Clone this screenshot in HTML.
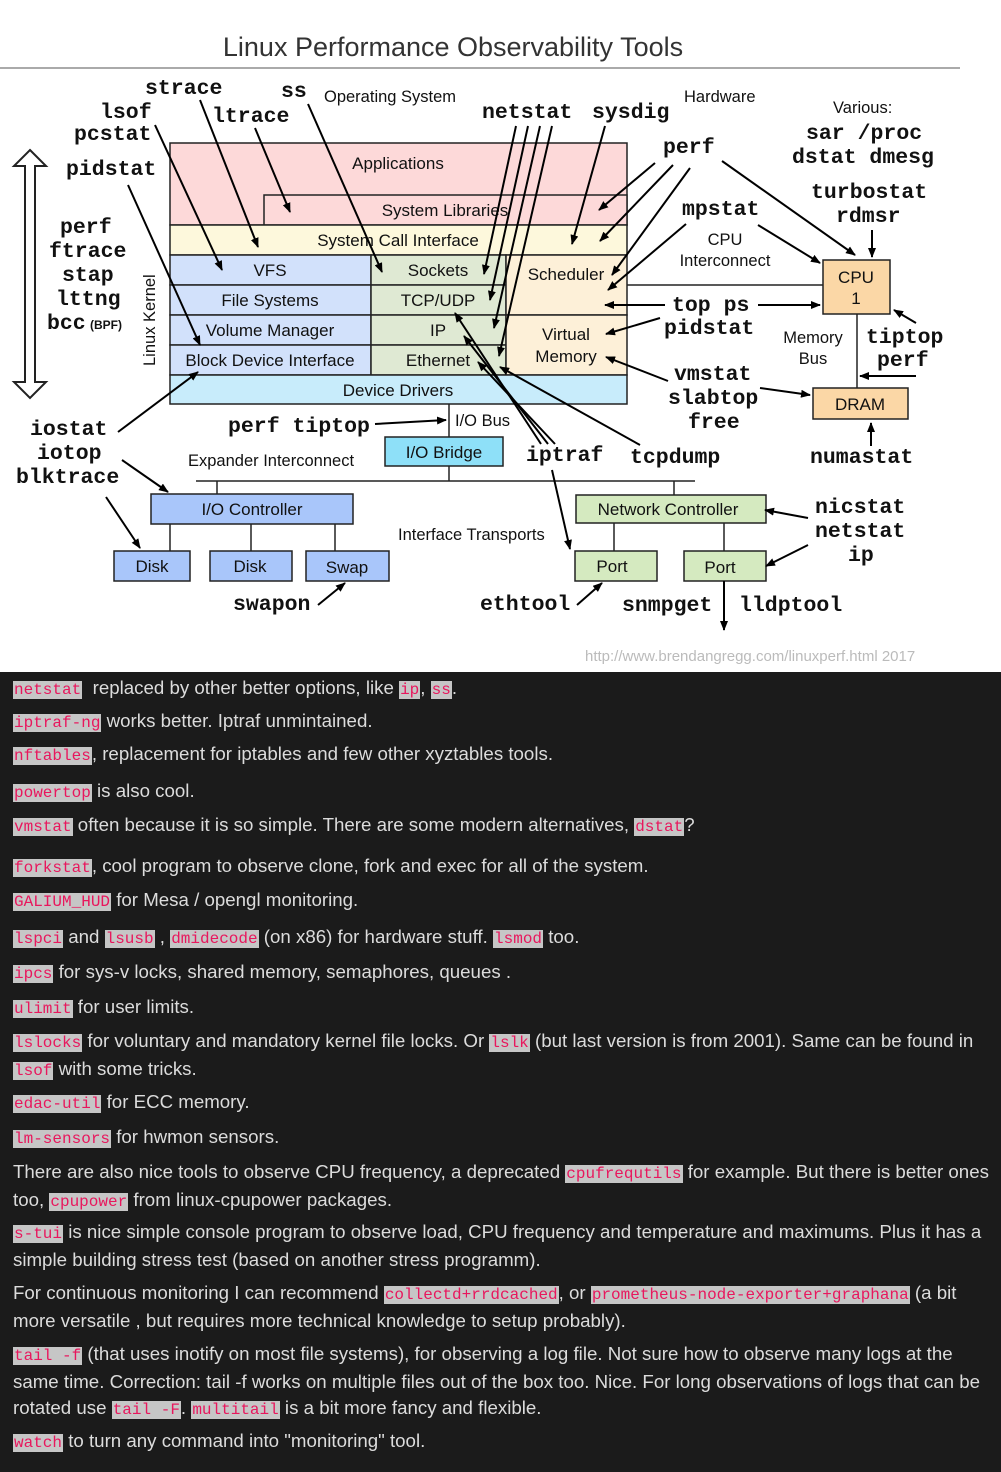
<!DOCTYPE html>
<html><head><meta charset="utf-8"><style>
body{margin:0;width:1001px;height:1472px;overflow:hidden;background:#1b1b1b;font-family:"Liberation Sans",sans-serif}
#top{position:absolute;left:0;top:0;width:1001px;height:672px;background:#fff}
.p{position:absolute;left:13px;color:#dcdcdc;font-size:18.7px;line-height:26px;white-space:nowrap}
code{font-family:"Liberation Mono",monospace;font-size:16px;color:#e8175d;background:#c6c6c6;padding:0 1px}
</style></head><body>
<div id="top">
<svg width="1001" height="672" xmlns="http://www.w3.org/2000/svg" font-family="Liberation Sans, sans-serif">
<defs><marker id="a" markerWidth="10" markerHeight="8" refX="9" refY="4" orient="auto" markerUnits="userSpaceOnUse"><path d="M0,0 L10,4 L0,8 z" fill="#000"/></marker></defs>
<text x="453" y="56" text-anchor="middle" font-size="27" fill="#333" font-weight="300">Linux Performance Observability Tools</text>
<line x1="0" y1="68" x2="960" y2="68" stroke="#555" stroke-width="1"/>
<g stroke="#222" stroke-width="1.5">
<rect x="170" y="143" width="457" height="82" fill="#fdd9d9"/>
<rect x="264" y="195" width="363" height="30" fill="#fdd9d9"/>
<rect x="170" y="225" width="457" height="30" fill="#fdf8dc"/>
<rect x="170" y="255" width="201" height="30" fill="#d2e1fb"/>
<rect x="170" y="285" width="201" height="30" fill="#d2e1fb"/>
<rect x="170" y="315" width="201" height="30" fill="#d2e1fb"/>
<rect x="170" y="345" width="201" height="30" fill="#d2e1fb"/>
<rect x="371" y="255" width="135" height="30" fill="#dfe9d3"/>
<rect x="371" y="285" width="135" height="30" fill="#dfe9d3"/>
<rect x="371" y="315" width="135" height="30" fill="#dfe9d3"/>
<rect x="371" y="345" width="135" height="30" fill="#dfe9d3"/>
<rect x="506" y="255" width="121" height="60" fill="#fdf0d8"/>
<rect x="506" y="315" width="121" height="60" fill="#fdf0d8"/>
<rect x="170" y="375" width="457" height="29" fill="#c8ecfb"/>
<rect x="823" y="260" width="67" height="54" fill="#fbd7a6"/>
<rect x="813" y="388" width="95" height="31" fill="#fbd7a6"/>
<rect x="385" y="437" width="118" height="29" fill="#8ee0f8"/>
<rect x="151" y="494" width="202" height="30" fill="#a9c6fa"/>
<rect x="114" y="551" width="76" height="30" fill="#a9c6fa"/>
<rect x="210" y="551" width="82" height="30" fill="#a9c6fa"/>
<rect x="306" y="551" width="83" height="30" fill="#a9c6fa"/>
<rect x="576" y="495" width="190" height="28" fill="#d5eac0"/>
<rect x="575" y="551" width="82" height="30" fill="#d5eac0"/>
<rect x="684" y="551" width="82" height="30" fill="#d5eac0"/>
<line x1="627" y1="285" x2="823" y2="285"/>
<line x1="857" y1="314" x2="857" y2="388"/>
<line x1="449" y1="404" x2="449" y2="437"/>
<line x1="449" y1="466" x2="449" y2="481"/>
<line x1="196" y1="481" x2="695" y2="481"/>
<line x1="217" y1="481" x2="217" y2="494"/>
<line x1="674" y1="481" x2="674" y2="495"/>
<line x1="170" y1="524" x2="170" y2="551"/><line x1="251" y1="524" x2="251" y2="551"/><line x1="335" y1="524" x2="335" y2="551"/>
<line x1="614" y1="523" x2="614" y2="551"/><line x1="724" y1="523" x2="724" y2="551"/>
</g>
<g font-size="17" text-anchor="middle" fill="#111">
<text x="398" y="169">Applications</text><text x="445" y="216">System Libraries</text>
<text x="398" y="246">System Call Interface</text>
<text x="270" y="276">VFS</text><text x="270" y="306">File Systems</text><text x="270" y="336">Volume Manager</text><text x="270" y="366">Block Device Interface</text>
<text x="438" y="276">Sockets</text><text x="438" y="306">TCP/UDP</text><text x="438" y="336">IP</text><text x="438" y="366">Ethernet</text>
<text x="566" y="280">Scheduler</text><text x="566" y="340">Virtual</text><text x="566" y="362">Memory</text>
<text x="398" y="396">Device Drivers</text>
<text x="856" y="283">CPU</text><text x="856" y="304">1</text><text x="860" y="410">DRAM</text>
<text x="444" y="458">I/O Bridge</text><text x="252" y="515">I/O Controller</text>
<text x="152" y="572">Disk</text><text x="250" y="572">Disk</text><text x="347" y="573">Swap</text>
<text x="668" y="515">Network Controller</text><text x="612" y="572">Port</text><text x="720" y="573">Port</text>
</g>
<g font-size="16.5" fill="#111">
<text x="324" y="102">Operating System</text><text x="684" y="102">Hardware</text><text x="833" y="113">Various:</text>
<text x="725" y="245" text-anchor="middle">CPU</text><text x="725" y="266" text-anchor="middle">Interconnect</text>
<text x="813" y="343" text-anchor="middle">Memory</text><text x="813" y="364" text-anchor="middle">Bus</text>
<text x="455" y="426">I/O Bus</text><text x="188" y="466">Expander Interconnect</text><text x="398" y="540">Interface Transports</text>
<text x="155" y="366" transform="rotate(-90 155 366)">Linux Kernel</text>
</g>
<text x="585" y="661" font-size="15" fill="#bbb">http://www.brendangregg.com/linuxperf.html 2017</text>
<g font-family="Liberation Mono, monospace" font-weight="bold" font-size="21.5" fill="#111">
<text x="145" y="94">strace</text><text x="281" y="97">ss</text>
<text x="100" y="118">lsof</text><text x="212" y="122">ltrace</text><text x="74" y="140">pcstat</text>
<text x="66" y="175">pidstat</text>
<text x="60" y="233">perf</text><text x="49" y="257">ftrace</text><text x="62" y="281">stap</text><text x="56" y="305">lttng</text><text x="47" y="329">bcc</text>
<text x="482" y="118">netstat</text><text x="592" y="118">sysdig</text><text x="663" y="153">perf</text>
<text x="806" y="139">sar /proc</text><text x="792" y="163">dstat dmesg</text>
<text x="811" y="198">turbostat</text><text x="836" y="222">rdmsr</text>
<text x="682" y="215">mpstat</text><text x="672" y="311">top ps</text><text x="664" y="334">pidstat</text>
<text x="866" y="343">tiptop</text><text x="877" y="366">perf</text>
<text x="674" y="380">vmstat</text><text x="668" y="404">slabtop</text><text x="688" y="428">free</text>
<text x="30" y="435">iostat</text><text x="37" y="459">iotop</text><text x="16" y="483">blktrace</text>
<text x="228" y="432">perf tiptop</text><text x="526" y="461">iptraf</text><text x="630" y="463">tcpdump</text>
<text x="810" y="463">numastat</text>
<text x="815" y="513">nicstat</text><text x="815" y="537">netstat</text><text x="848" y="561">ip</text>
<text x="233" y="610">swapon</text><text x="480" y="610">ethtool</text><text x="622" y="611">snmpget</text><text x="739" y="611">lldptool</text>
</g>
<text x="90" y="329" font-size="12" font-weight="bold" fill="#111">(BPF)</text>
<path d="M30,150 L46,166 L35,166 L35,382 L46,382 L30,398 L14,382 L25,382 L25,166 L14,166 Z" fill="#fff" stroke="#222" stroke-width="2"/>
<g stroke="#000" stroke-width="2" marker-end="url(#a)" fill="none">
<line x1="155" y1="125" x2="222" y2="270"/>
<line x1="200" y1="100" x2="258" y2="247"/>
<line x1="255" y1="128" x2="290" y2="212"/>
<line x1="308" y1="104" x2="382" y2="272"/>
<line x1="128" y1="185" x2="200" y2="345"/>
<line x1="516" y1="126" x2="484" y2="274"/>
<line x1="528" y1="126" x2="490" y2="300"/>
<line x1="540" y1="126" x2="494" y2="328"/>
<line x1="552" y1="126" x2="499" y2="356"/>
<line x1="605" y1="126" x2="572" y2="244"/>
<line x1="655" y1="163" x2="599" y2="210"/>
<line x1="673" y1="165" x2="600" y2="241"/>
<line x1="690" y1="168" x2="612" y2="275"/>
<line x1="722" y1="161" x2="855" y2="255"/>
<line x1="686" y1="224" x2="608" y2="290"/>
<line x1="758" y1="225" x2="820" y2="263"/>
<line x1="872" y1="230" x2="872" y2="257"/>
<line x1="665" y1="305" x2="605" y2="305"/>
<line x1="758" y1="305" x2="820" y2="305"/>
<line x1="660" y1="318" x2="606" y2="334"/>
<line x1="668" y1="381" x2="606" y2="357"/>
<line x1="916" y1="323" x2="894" y2="310"/>
<line x1="916" y1="376" x2="860" y2="376"/>
<line x1="760" y1="388" x2="810" y2="395"/>
<line x1="871" y1="446" x2="871" y2="423"/>
<line x1="375" y1="424" x2="446" y2="420"/>
<line x1="118" y1="432" x2="198" y2="372"/>
<line x1="122" y1="460" x2="168" y2="492"/>
<line x1="106" y1="497" x2="140" y2="548"/>
<line x1="318" y1="605" x2="345" y2="583"/>
<line x1="541" y1="444" x2="455" y2="313"/>
<line x1="548" y1="444" x2="464" y2="336"/>
<line x1="555" y1="444" x2="478" y2="362"/>
<line x1="552" y1="470" x2="570" y2="549"/>
<line x1="640" y1="445" x2="500" y2="367"/>
<line x1="577" y1="605" x2="602" y2="583"/>
<line x1="724" y1="581" x2="724" y2="630"/>
<line x1="808" y1="518" x2="765" y2="510"/>
<line x1="808" y1="545" x2="766" y2="566"/>
</g>
</svg>
</div>
<div class="p" style="top:675px"><code>netstat</code>&nbsp; replaced by other better options, like <code>ip</code>, <code>ss</code>.</div>
<div class="p" style="top:708px"><code>iptraf-ng</code> works better. Iptraf unmintained.</div>
<div class="p" style="top:741px"><code>nftables</code>, replacement for iptables and few other xyztables tools.</div>
<div class="p" style="top:778px"><code>powertop</code> is also cool.</div>
<div class="p" style="top:812px"><code>vmstat</code> often because it is so simple. There are some modern alternatives, <code>dstat</code>?</div>
<div class="p" style="top:853px"><code>forkstat</code>, cool program to observe clone, fork and exec for all of the system.</div>
<div class="p" style="top:887px"><code>GALIUM_HUD</code> for Mesa / opengl monitoring.</div>
<div class="p" style="top:924px"><code>lspci</code> and <code>lsusb</code> , <code>dmidecode</code> (on x86) for hardware stuff. <code>lsmod</code> too.</div>
<div class="p" style="top:959px"><code>ipcs</code> for sys-v locks, shared memory, semaphores, queues .</div>
<div class="p" style="top:994px"><code>ulimit</code> for user limits.</div>
<div class="p" style="top:1028px"><code>lslocks</code> for voluntary and mandatory kernel file locks. Or <code>lslk</code> (but last version is from 2001). Same can be found in<br><code>lsof</code> with some tricks.</div>
<div class="p" style="top:1089px"><code>edac-util</code> for ECC memory.</div>
<div class="p" style="top:1124px"><code>lm-sensors</code> for hwmon sensors.</div>
<div class="p" style="top:1159px">There are also nice tools to observe CPU frequency, a deprecated <code>cpufrequtils</code> for example. But there is better ones<br>too, <code>cpupower</code> from linux-cpupower packages.</div>
<div class="p" style="top:1219px"><code>s-tui</code> is nice simple console program to observe load, CPU frequency and temperature and maximums. Plus it has a<br>simple building stress test (based on another stress programm).</div>
<div class="p" style="top:1280px">For continuous monitoring I can recommend <code>collectd+rrdcached</code>, or <code>prometheus-node-exporter+graphana</code> (a bit<br>more versatile , but requires more technical knowledge to setup probably).</div>
<div class="p" style="top:1341px"><code>tail -f</code> (that uses inotify on most file systems), for observing a log file. Not sure how to observe many logs at the<br>same time. Correction: tail -f works on multiple files out of the box too. Nice. For long observations of logs that can be<br>rotated use <code>tail -F</code>. <code>multitail</code> is a bit more fancy and flexible.</div>
<div class="p" style="top:1428px"><code>watch</code> to turn any command into "monitoring" tool.</div>
</body></html>
